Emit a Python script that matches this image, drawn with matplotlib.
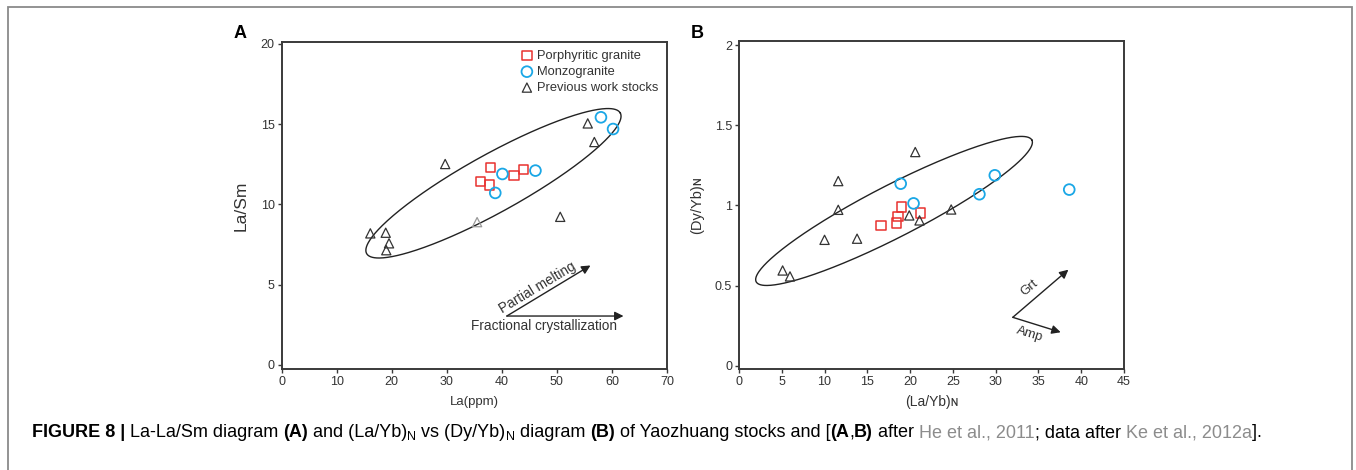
import numpy as np
import matplotlib
matplotlib.use("Agg")
import matplotlib.pyplot as plt
from matplotlib.patches import FancyBboxPatch

plt.rcParams['font.family'] = ['Liberation Sans', 'DejaVu Sans']

# ---- data: panel A, La (ppm) vs La/Sm
a_porph_x = [36.1, 37.9, 37.7, 42.2, 43.9]
a_porph_y = [11.42, 12.32, 11.21, 11.80, 12.19]
a_monzo_x = [40.1, 38.8, 46.1, 58.0, 60.2]
a_monzo_y = [11.90, 10.72, 12.11, 15.43, 14.70]
a_prev_x = [16.1, 18.9, 19.5, 19.0, 29.7, 50.6, 55.6, 56.8]
a_prev_y = [8.20, 8.24, 7.58, 7.15, 12.52, 9.23, 15.05, 13.89]
a_prev_light_x = [35.5]
a_prev_light_y = [8.90]

# ---- data: panel B, (La/Yb)N vs (Dy/Yb)N
b_porph_x = [16.6, 18.4, 18.6, 19.0, 21.2]
b_porph_y = [0.874, 0.891, 0.930, 0.991, 0.953]
b_monzo_x = [18.9, 20.4, 28.1, 29.9, 38.6]
b_monzo_y = [1.136, 1.013, 1.070, 1.188, 1.099]
b_prev_x = [5.1, 5.96, 10.0, 11.6, 11.6, 13.8, 19.9, 21.1, 20.6, 24.8]
b_prev_y = [0.595, 0.558, 0.786, 1.152, 0.973, 0.793, 0.938, 0.907, 1.333, 0.975]

# field ellipses: centre (data), half-axes (px), angle (deg)
ell_a = (38.47, 11.32, 145, 29, 29.0)
ell_b = (18.12, 0.966, 155, 26, 27.2)

RED = '#e8312f'
BLUE = '#1aa7e6'
GRAY = '#333333'

fig = plt.figure(figsize=(13.56, 4.70), dpi=100)

# outer frame
fig.patches.append(FancyBboxPatch((8.3 / 1356, -0.05), (1352 - 8.3) / 1356, 1.05 - 7.3 / 470,
                                  boxstyle='square,pad=0', transform=fig.transFigure,
                                  fill=False, edgecolor='#8a8a8a', linewidth=1.3))

axA = fig.add_axes([281.7 / 1356, 1 - 369 / 470, 385.3 / 1356, 327.3 / 470])
axB = fig.add_axes([739 / 1356, 1 - 369 / 470, 385 / 1356, 328 / 470])


def style(ax):
    for s in ax.spines.values():
        s.set_linewidth(1.4)
        s.set_color('#3a3a3a')
    ax.tick_params(direction='out', length=3, width=1.0, color='#3a3a3a',
                   labelsize=9, labelcolor=GRAY, pad=2)


def field(ax, c):
    cx, cy, a, b, ang = c
    bb = ax.get_window_extent()
    x0, x1 = ax.get_xlim()
    y0, y1 = ax.get_ylim()
    sx = bb.width / (x1 - x0)
    sy = bb.height / (y1 - y0)
    t = np.linspace(0, 2 * np.pi, 400)
    th = np.radians(ang)
    dx = a * np.cos(t) * np.cos(th) - b * np.sin(t) * np.sin(th)
    dy = a * np.cos(t) * np.sin(th) + b * np.sin(t) * np.cos(th)
    ax.plot(cx + dx / sx, cy + dy / sy, color='#222222', lw=1.0, zorder=2)


def points(ax, px, py, mx, my, tx, ty):
    ax.scatter(px, py, marker='s', s=46, facecolors='none', edgecolors=RED,
               linewidths=1.1, zorder=3, label='Porphyritic granite')
    ax.scatter(mx, my, marker='o', s=60, facecolors='none', edgecolors=BLUE,
               linewidths=1.3, zorder=3, label='Monzogranite')
    ax.scatter(tx, ty, marker='^', s=44, facecolors='none', edgecolors='#333333',
               linewidths=0.9, zorder=3, label='Previous work stocks')


def arrow(ax, start, end):
    ax.annotate('', xy=end, xytext=start,
                arrowprops=dict(arrowstyle='-|>', color='#222222', lw=1.0,
                                mutation_scale=13, shrinkA=0, shrinkB=0))


# ---- panel A
axA.set_xlim(0, 70)
axA.set_ylim(-0.25, 20.14)
axA.set_xticks(range(0, 71, 10))
axA.set_yticks(range(0, 21, 5))
style(axA)
points(axA, a_porph_x, a_porph_y, a_monzo_x, a_monzo_y, a_prev_x, a_prev_y)
axA.scatter(a_prev_light_x, a_prev_light_y, marker='^', s=44, facecolors='none',
            edgecolors='#999999', linewidths=0.9, zorder=3)
field(axA, ell_a)
axA.set_xlabel('La(ppm)', fontsize=9.5, color=GRAY, labelpad=6)
axA.set_ylabel('La/Sm', fontsize=12.5, color=GRAY, labelpad=9)
axA.legend(loc='upper right', bbox_to_anchor=(1.0, 1.0), frameon=False,
           fontsize=9.3, handletextpad=0.05, labelspacing=0.3,
           borderaxespad=0.25, handlelength=1.5, labelcolor=GRAY)
arrow(axA, (40.9, 3.05), (62.1, 3.05))
arrow(axA, (40.9, 3.05), (56.1, 6.2))
axA.text(47.6, 2.45, 'Fractional crystallization', fontsize=9.8, color=GRAY,
         ha='center', va='center')
axA.text(46.4, 4.8, 'Partial melting', fontsize=9.8, color=GRAY,
         ha='center', va='center', rotation=31)
fig.text(240 / 1356, 1 - 33 / 470, 'A', fontsize=13, fontweight='bold',
         ha='center', va='center')

# ---- panel B
axB.set_xlim(0, 45)
axB.set_ylim(-0.019, 2.025)
axB.set_xticks(range(0, 46, 5))
axB.set_yticks([0, 0.5, 1, 1.5, 2])
axB.set_yticklabels(['0', '0.5', '1', '1.5', '2'])
style(axB)
points(axB, b_porph_x, b_porph_y, b_monzo_x, b_monzo_y, b_prev_x, b_prev_y)
field(axB, ell_b)
axB.set_xlabel('(La/Yb)ɴ', fontsize=10, color=GRAY, labelpad=5)
axB.set_ylabel('(Dy/Yb)ɴ', fontsize=10.5, color=GRAY, labelpad=8)
arrow(axB, (32.0, 0.303), (38.5, 0.6))
arrow(axB, (32.0, 0.303), (37.6, 0.21))
axB.text(34.0, 0.484, 'Grt', fontsize=9.5, color=GRAY, ha='center', va='center',
         rotation=40)
axB.text(34.0, 0.2, 'Amp', fontsize=9.5, color=GRAY, ha='center', va='center',
         rotation=-17)
fig.text(697 / 1356, 1 - 33 / 470, 'B', fontsize=13, fontweight='bold',
         ha='center', va='center')

# ---- caption
pieces = [
    ('FIGURE 8 | ', 'bold', 'black', 0),
    ('La-La/Sm diagram ', 'normal', 'black', 0),
    ('(A)', 'bold', 'black', 0),
    (' and (La/Yb)', 'normal', 'black', 0),
    ('N', 'normal', 'black', 1),
    (' vs (Dy/Yb)', 'normal', 'black', 0),
    ('N', 'normal', 'black', 1),
    (' diagram ', 'normal', 'black', 0),
    ('(B)', 'bold', 'black', 0),
    (' of Yaozhuang stocks and [', 'normal', 'black', 0),
    ('(A', 'bold', 'black', 0),
    (',', 'normal', 'black', 0),
    ('B)', 'bold', 'black', 0),
    (' after ', 'normal', 'black', 0),
    ('He et al., 2011', 'normal', '#8c8c8c', 0),
    ('; data after ', 'normal', 'black', 0),
    ('Ke et al., 2012a', 'normal', '#8c8c8c', 0),
    (']. ', 'normal', 'black', 0),
]
renderer = fig.canvas.get_renderer()


def caption(size, x_start, draw):
    xpix = x_start
    ybase = 470 - 437.0
    made = []
    for txt, w, col, sub in pieces:
        fs = size * 0.7 if sub else size
        t = fig.text(xpix / 1356, (ybase - (3 if sub else 0)) / 470, txt, fontsize=fs,
                     fontweight=w, color=col, ha='left', va='baseline')
        xpix += t.get_window_extent(renderer=renderer).width
        made.append(t)
    if not draw:
        for t in made:
            t.remove()
    return xpix - x_start


base = 10.6
width = caption(base, 32.0, False)
caption(base * 1246.0 / width, 32.0, True)

fig.savefig('out.png', dpi=100)
